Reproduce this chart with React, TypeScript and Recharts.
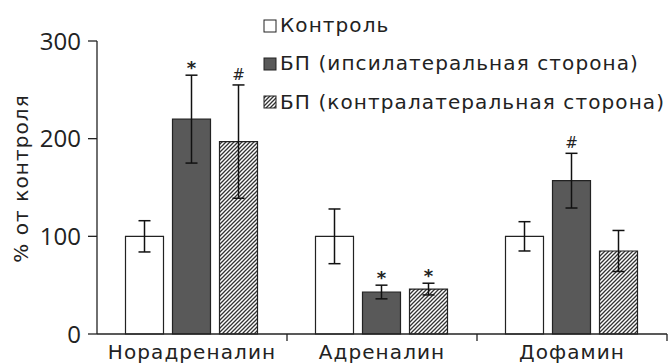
import { BarChart, Bar, XAxis, YAxis, ErrorBar, Legend, LabelList } from 'recharts'

const categories = ['Норадреналин', 'Адреналин', 'Дофамин']
const control = [100, 100, 100]
const controlErr = [16, 28, 15]
const ipsi = [220, 43, 157]
const ipsiErr = [45, 7, 28]
const contra = [197, 46, 85]
const contraErr = [58, 6, 21]
const ipsiMarks = ['*', '*', '#']
const contraMarks = ['#', '*', '']
const yTicks = [0, 100, 200, 300]
const seriesNames = ['Контроль', 'БП (ипсилатеральная сторона)', 'БП (контралатеральная сторона)']

const data = categories.map((name, i) => ({
    name,
    control: control[i],
    controlErr: controlErr[i],
    ipsi: ipsi[i],
    ipsiErr: ipsiErr[i],
    contra: contra[i],
    contraErr: contraErr[i],
}))

const ink = '#222'
const textFont = '"DejaVu Sans", sans-serif'
const numFont = '"Open Sans", sans-serif'
const xTickMargin = 11

// significance mark above the error bar: pixel length of the error = err * height / value
function markLabel(values: number[], errs: number[], marks: string[]) {
    return (props: any) => {
        const { x, y, width, height, index } = props
        const mark = marks[index]
        if (!mark) return null
        const top = y - (errs[index] * height) / values[index]
        const star = mark === '*'
        return (
            <text
                x={x + width / 2}
                y={star ? top - 1 : top - 5}
                textAnchor="middle"
                fontSize={star ? 18 : 15}
                fontWeight={star ? 'bold' : 'normal'}
                fontFamily={textFont}
                fill={ink}
            >
                {mark}
            </text>
        )
    }
}

// category label plus a short tick at the right edge of each category band
function CategoryTick(props: any) {
    const { x, y, payload, width, visibleTicksCount } = props
    const edge = x + width / visibleTicksCount / 2
    const axisY = y - xTickMargin
    return (
        <g>
            <line x1={edge} x2={edge} y1={axisY} y2={axisY + 7} stroke={ink} strokeWidth={1.3} />
            <text
                x={x}
                y={y}
                dy="0.71em"
                textAnchor="middle"
                fontSize={20}
                letterSpacing={1.1}
                fontFamily={textFont}
                fill={ink}
            >
                {payload.value}
            </text>
        </g>
    )
}

function LegendIcon({ kind }: { kind: string }) {
    const fill = kind === 'ipsi' ? '#595959' : kind === 'contra' ? 'url(#hatch)' : '#fff'
    return (
        <svg width={14} height={14} style={{ marginRight: 3, verticalAlign: 'middle' }}>
            <rect x={1} y={1} width={12} height={12} fill={fill} stroke={ink} strokeWidth={1} />
        </svg>
    )
}

function renderLegend(props: any) {
    const items = [...props.payload].sort(
        (a: any, b: any) => seriesNames.indexOf(a.value) - seriesNames.indexOf(b.value)
    )
    return (
        <div style={{ fontFamily: textFont, fontSize: 20, letterSpacing: 1.1, color: ink, lineHeight: '37.5px' }}>
            {items.map((entry: any) => (
                <div key={entry.dataKey} style={{ whiteSpace: 'nowrap' }}>
                    <LegendIcon kind={entry.dataKey} />
                    <span style={{ verticalAlign: 'middle' }}>{entry.value}</span>
                </div>
            ))}
        </div>
    )
}

function renderYLabel(props: any) {
    const { viewBox } = props
    const cx = viewBox.x + 22
    const cy = viewBox.y + viewBox.height / 2 - 9
    return (
        <text
            x={cx}
            y={cy}
            transform={`rotate(-90, ${cx}, ${cy})`}
            textAnchor="middle"
            dominantBaseline="middle"
            fontSize={20}
            letterSpacing={1.1}
            fontFamily={textFont}
            fill={ink}
        >
            % от контроля
        </text>
    )
}

export default function App() {
    return (
        <div style={{ position: 'absolute', left: 0, top: 0, width: 670, height: 364, background: '#fff' }}>
            <BarChart
                width={670}
                height={364}
                data={data}
                margin={{ top: 41, right: 3, bottom: 0, left: 0 }}
                barCategoryGap="15%"
                barGap={9}
            >
                <defs>
                    <pattern id="hatch" patternUnits="userSpaceOnUse" width="4" height="4">
                        <rect width="4" height="4" fill="#fff" />
                        <path d="M-1,1 l2,-2 M0,4 l4,-4 M3,5 l2,-2" stroke="#333" strokeWidth={1.3} />
                    </pattern>
                </defs>
                <XAxis
                    dataKey="name"
                    tickLine={false}
                    tickSize={0}
                    axisLine={{ stroke: ink, strokeWidth: 1.3 }}
                    height={30}
                    tick={<CategoryTick />}
                    tickMargin={xTickMargin}
                    interval={0}
                />
                <YAxis
                    width={97}
                    domain={[0, 300]}
                    ticks={yTicks}
                    tickSize={9}
                    tickLine={{ stroke: ink, strokeWidth: 1.3 }}
                    axisLine={{ stroke: ink, strokeWidth: 1.3 }}
                    tick={{ fontSize: 24, fontFamily: numFont, fill: ink }}
                    tickMargin={7}
                    label={{ content: renderYLabel }}
                />
                <Legend
                    layout="vertical"
                    align="center"
                    verticalAlign="middle"
                    content={renderLegend}
                    wrapperStyle={{ left: 263, top: 6, width: 'auto' }}
                />
                <Bar dataKey="control" name={seriesNames[0]} fill="#fff" stroke={ink} strokeWidth={1.2} isAnimationActive={false}>
                    <ErrorBar dataKey="controlErr" width={6} stroke="#111" strokeWidth={1.5} />
                </Bar>
                <Bar dataKey="ipsi" name={seriesNames[1]} fill="#595959" stroke={ink} strokeWidth={1.2} isAnimationActive={false}>
                    <ErrorBar dataKey="ipsiErr" width={6} stroke="#111" strokeWidth={1.5} />
                    <LabelList dataKey="ipsi" content={markLabel(ipsi, ipsiErr, ipsiMarks)} />
                </Bar>
                <Bar dataKey="contra" name={seriesNames[2]} fill="url(#hatch)" stroke={ink} strokeWidth={1.2} isAnimationActive={false}>
                    <ErrorBar dataKey="contraErr" width={6} stroke="#111" strokeWidth={1.5} />
                    <LabelList dataKey="contra" content={markLabel(contra, contraErr, contraMarks)} />
                </Bar>
            </BarChart>
        </div>
    )
}
